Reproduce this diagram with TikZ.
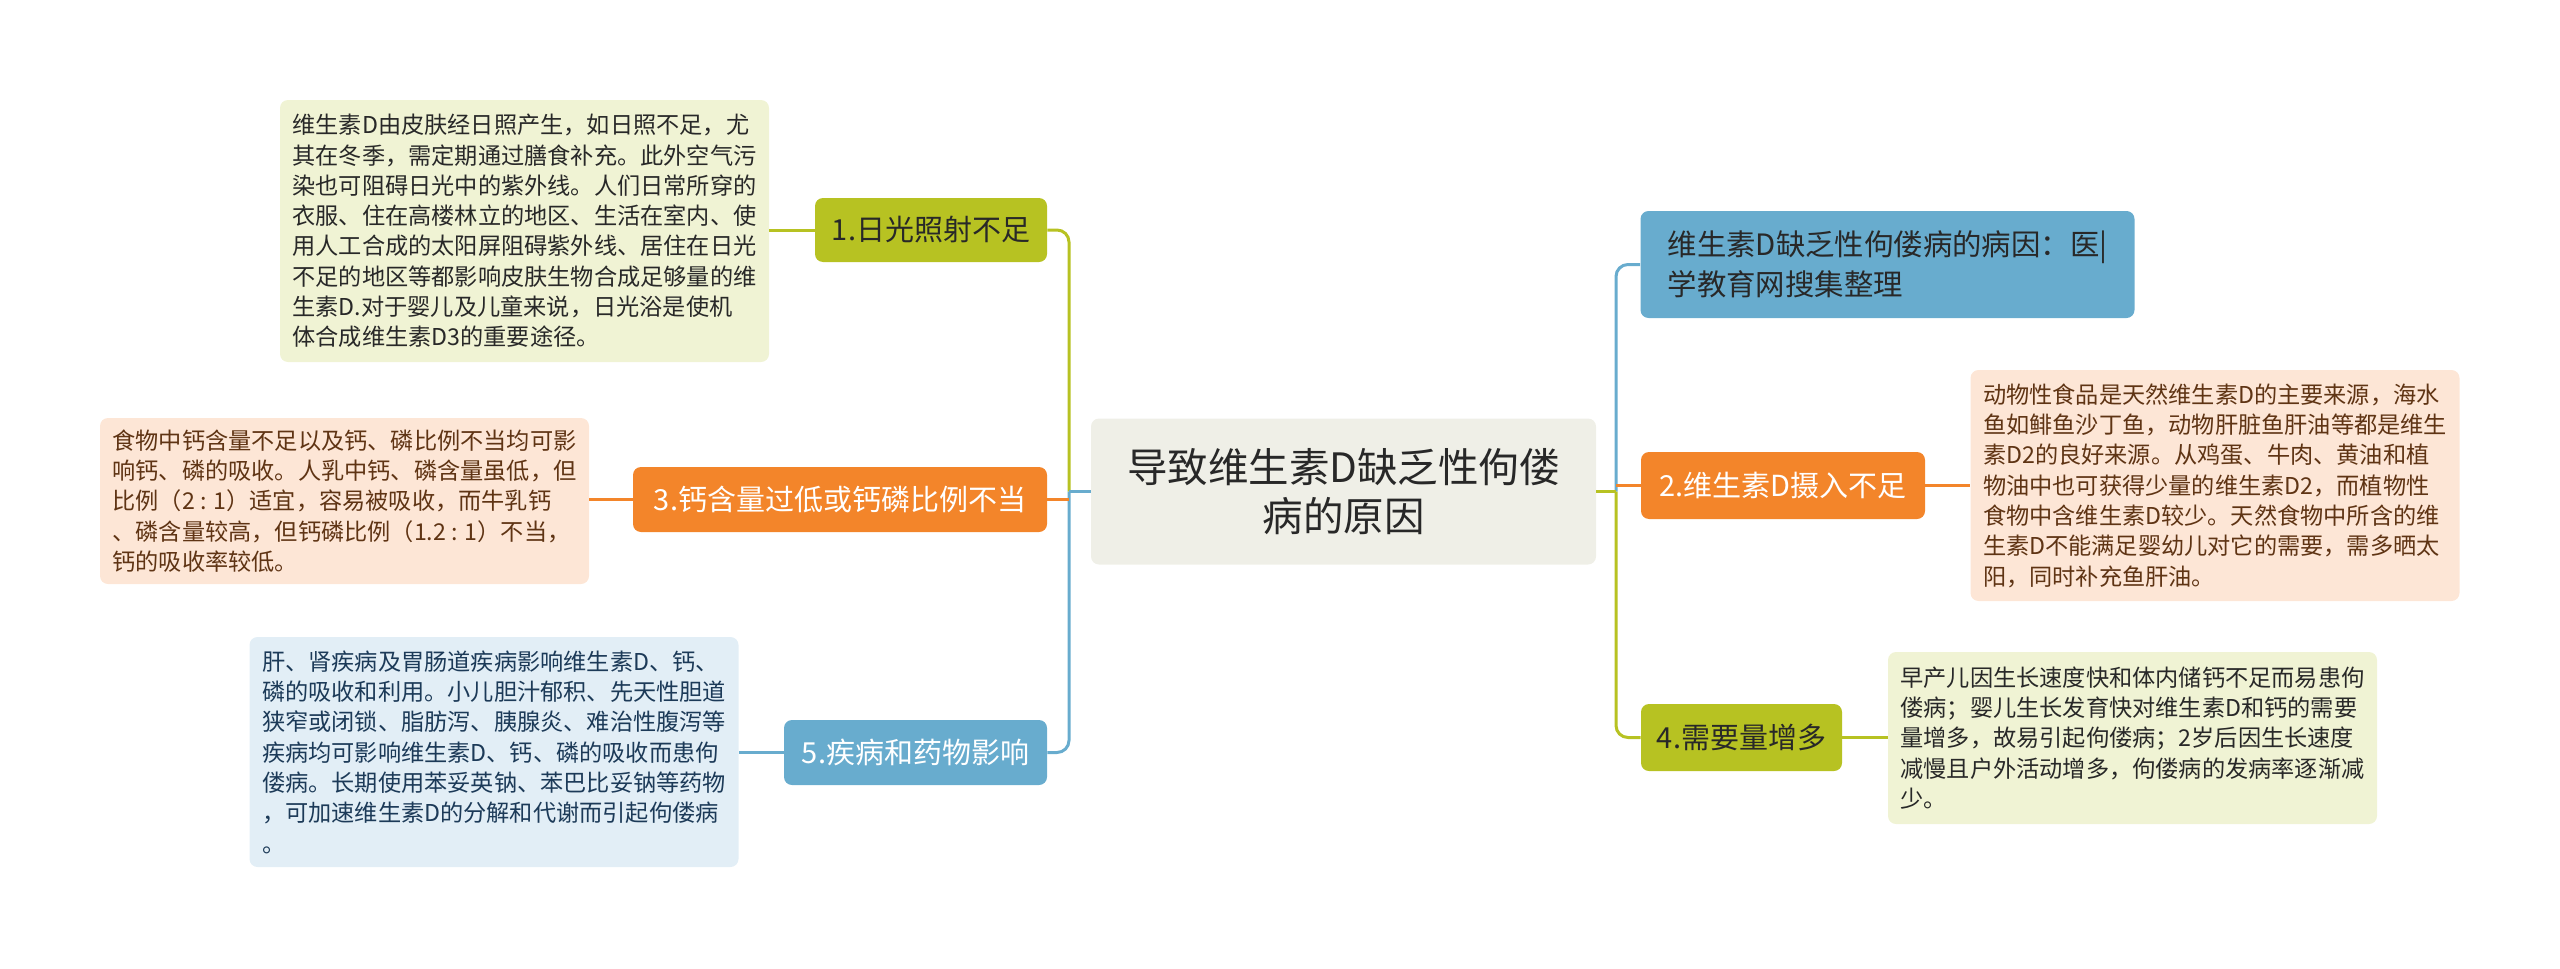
\documentclass[tikz,border=0pt]{standalone}
\usepackage{fontspec}
\setmainfont{Noto Sans CJK SC}
\definecolor{cgreen}{RGB}{183,194,34}
\definecolor{corange}{RGB}{243,133,42}
\definecolor{cblue}{RGB}{104,172,206}
\definecolor{ccenter}{RGB}{239,239,231}
\definecolor{dgreen}{RGB}{240,243,212}
\definecolor{dorange}{RGB}{253,230,214}
\definecolor{dblue}{RGB}{226,238,246}
\definecolor{tdark}{RGB}{40,40,40}
\definecolor{tbrown}{RGB}{95,52,20}
\definecolor{tnavy}{RGB}{28,58,88}
\begin{document}
\begin{tikzpicture}[x=0.5pt,y=-0.5pt,
  boxbase/.style={rounded corners=4pt, inner sep=0pt, anchor=center},
  centernode/.style={boxbase, fill=ccenter, text=tdark, align=center,
     font=\fontsize{20.25pt}{24.5pt}\selectfont, minimum width=252.5pt, minimum height=73pt},
  branchnode/.style={boxbase, align=left, font=\fontsize{14.5pt}{20pt}\selectfont},
  detailnode/.style={boxbase, align=left, font=\fontsize{11.6pt}{15.15pt}\selectfont, minimum width=244.5pt},
  link/.style={line width=1.5pt, rounded corners=6pt},
  plainlink/.style={line width=1.5pt}]
\useasboundingbox (0,0) rectangle (2560,969);

% center
\node[centernode] (c) at (1343.5,491.5) {导致维生素D缺乏性佝偻\\病的原因};

% spine coordinates
\coordinate (sl) at (1069,491.5);
\coordinate (sr) at (1616,491.5);

% left branches
\node[branchnode, fill=cgreen, text=tdark, minimum width=116pt, minimum height=32pt] (b1) at (931,230) {1.日光照射不足};
\node[branchnode, fill=corange, text=white, minimum width=207pt, minimum height=32.5pt] (b3) at (840,499.5) {3.钙含量过低或钙磷比例不当};
\node[branchnode, fill=cblue, text=white, minimum width=131.5pt, minimum height=32.5pt] (b5) at (915.5,752.5) {5.疾病和药物影响};

% right branches
\node[branchnode, fill=cblue, text=tdark, minimum width=247pt, minimum height=53.5pt, font=\fontsize{14.7pt}{20pt}\selectfont] (r1) at (1887.5,264.5) {维生素D缺乏性佝偻病的病因：医|\\学教育网搜集整理};
\node[branchnode, fill=corange, text=white, minimum width=142pt, minimum height=33.5pt] (r2) at (1783,485.5) {2.维生素D摄入不足};
\node[branchnode, fill=cgreen, text=tdark, minimum width=100.5pt, minimum height=33.5pt] (r4) at (1741.5,737.5) {4.需要量增多};

% details
\node[detailnode, fill=dgreen, text=tdark, minimum height=131pt] (d1) at (524.5,231) {维生素D由皮肤经日照产生，如日照不足，尤\\其在冬季，需定期通过膳食补充。此外空气污\\染也可阻碍日光中的紫外线。人们日常所穿的\\衣服、住在高楼林立的地区、生活在室内、使\\用人工合成的太阳屏阻碍紫外线、居住在日光\\不足的地区等都影响皮肤生物合成足够量的维\\生素D.对于婴儿及儿童来说，日光浴是使机\\体合成维生素D3的重要途径。};
\node[detailnode, fill=dorange, text=tbrown, minimum height=83pt] (d3) at (344.5,501) {食物中钙含量不足以及钙、磷比例不当均可影\\响钙、磷的吸收。人乳中钙、磷含量虽低，但\\比例（2 : 1）适宜，容易被吸收，而牛乳钙\\、磷含量较高，但钙磷比例（1.2 : 1）不当，\\钙的吸收率较低。};
\node[detailnode, fill=dblue, text=tnavy, minimum height=115pt] (d5) at (494,752) {肝、肾疾病及胃肠道疾病影响维生素D、钙、\\磷的吸收和利用。小儿胆汁郁积、先天性胆道\\狭窄或闭锁、脂肪泻、胰腺炎、难治性腹泻等\\疾病均可影响维生素D、钙、磷的吸收而患佝\\偻病。长期使用苯妥英钠、苯巴比妥钠等药物\\，可加速维生素D的分解和代谢而引起佝偻病\\。};
\node[detailnode, fill=dorange, text=tbrown, minimum height=115.5pt] (d2) at (2215,485.5) {动物性食品是天然维生素D的主要来源，海水\\鱼如鲱鱼沙丁鱼，动物肝脏鱼肝油等都是维生\\素D2的良好来源。从鸡蛋、牛肉、黄油和植\\物油中也可获得少量的维生素D2，而植物性\\食物中含维生素D较少。天然食物中所含的维\\生素D不能满足婴幼儿对它的需要，需多晒太\\阳，同时补充鱼肝油。};
\node[detailnode, fill=dgreen, text=tdark, minimum height=86pt] (d4) at (2132.5,738) {早产儿因生长速度快和体内储钙不足而易患佝\\偻病；婴儿生长发育快对维生素D和钙的需要\\量增多，故易引起佝偻病；2岁后因生长速度\\减慢且户外活动增多，佝偻病的发病率逐渐减\\少。};

% connectors center -> branches (left)
\draw[link, draw=cgreen] (sl) |- (b1.east);
\draw[link, draw=cblue] (sl) |- (b5.east);
\draw[plainlink, draw=corange] (b3.east -| sl) -- (b3.east);
\draw[plainlink, draw=cblue] (c.west) -- (sl);
% connectors center -> branches (right)
\draw[link, draw=cblue] (sr) |- (r1.west);
\draw[link, draw=cgreen] (sr) |- (r4.west);
\draw[plainlink, draw=corange] (r2.west -| sr) -- (r2.west);
\draw[plainlink, draw=cgreen] (c.east) -- (sr);

% connectors branches -> details
\draw[plainlink, draw=cgreen] (b1.west) -- (b1.west -| d1.east);
\draw[plainlink, draw=corange] (b3.west) -- (b3.west -| d3.east);
\draw[plainlink, draw=cblue] (b5.west) -- (b5.west -| d5.east);
\draw[plainlink, draw=corange] (r2.east) -- (r2.east -| d2.west);
\draw[plainlink, draw=cgreen] (r4.east) -- (r4.east -| d4.west);
\end{tikzpicture}
\end{document}
